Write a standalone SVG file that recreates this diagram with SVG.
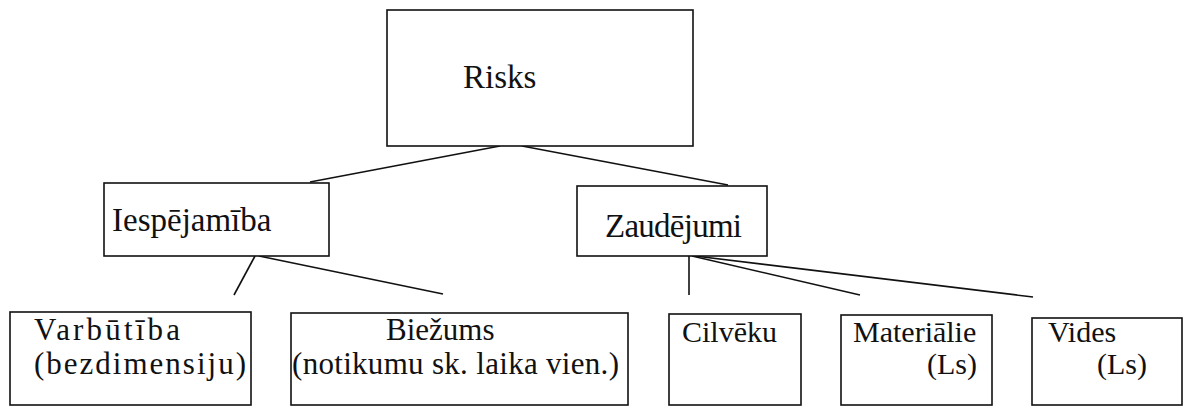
<svg xmlns="http://www.w3.org/2000/svg" width="1184" height="408" viewBox="0 0 1184 408">
<style>
.box{fill:#fff;stroke:#111;stroke-width:1.6}
text{font-family:'Liberation Serif','DejaVu Serif',serif;font-size:30px;fill:#111}
.big{font-size:33px}
.mid{font-size:31px}
.c{stroke:#111;stroke-width:1.6;fill:none}
</style>
<rect width="1184" height="408" fill="#fff"/>
<g id="connectors">
<line class="c" x1="500" y1="146" x2="310" y2="182"/>
<line class="c" x1="522" y1="146" x2="728" y2="185"/>
<line class="c" x1="255" y1="256" x2="234" y2="295"/>
<line class="c" x1="259" y1="256" x2="443" y2="294"/>
<line class="c" x1="689" y1="256" x2="689" y2="295"/>
<line class="c" x1="692" y1="256" x2="860" y2="295"/>
<line class="c" x1="695" y1="256" x2="1033" y2="297"/>
</g>
<g id="risks">
<rect class="box" x="387" y="10" width="306" height="136"/>
<text class="big" x="463" y="88">Risks</text>
</g>
<g id="iespejamiba">
<rect class="box" x="104" y="183" width="225" height="73"/>
<text class="big" x="112" y="231">Iespējamība</text>
</g>
<g id="zaudejumi">
<rect class="box" x="577" y="186" width="190" height="70"/>
<text class="big" x="605" y="237" textLength="137">Zaudējumi</text>
</g>
<g id="varbutiba">
<rect class="box" x="10" y="312" width="241" height="93"/>
<text class="mid" x="34" y="340" textLength="146">Varbūtība</text>
<text class="mid" x="34" y="374" textLength="212">(bezdimensiju)</text>
</g>
<g id="biezums">
<rect class="box" x="291" y="313" width="337" height="92"/>
<text class="mid" x="386" y="340">Biežums</text>
<text class="mid" x="292" y="374" textLength="327">(notikumu sk. laika vien.)</text>
</g>
<g id="cilveku">
<rect class="box" x="669" y="314" width="132" height="91"/>
<text x="682" y="342">Cilvēku</text>
</g>
<g id="materialie">
<rect class="box" x="841" y="315" width="151" height="90"/>
<text x="853" y="342">Materiālie</text>
<text x="927" y="374">(Ls)</text>
</g>
<g id="vides">
<rect class="box" x="1032" y="318" width="150" height="87"/>
<text x="1048" y="342">Vides</text>
<text x="1097" y="374">(Ls)</text>
</g>
</svg>
